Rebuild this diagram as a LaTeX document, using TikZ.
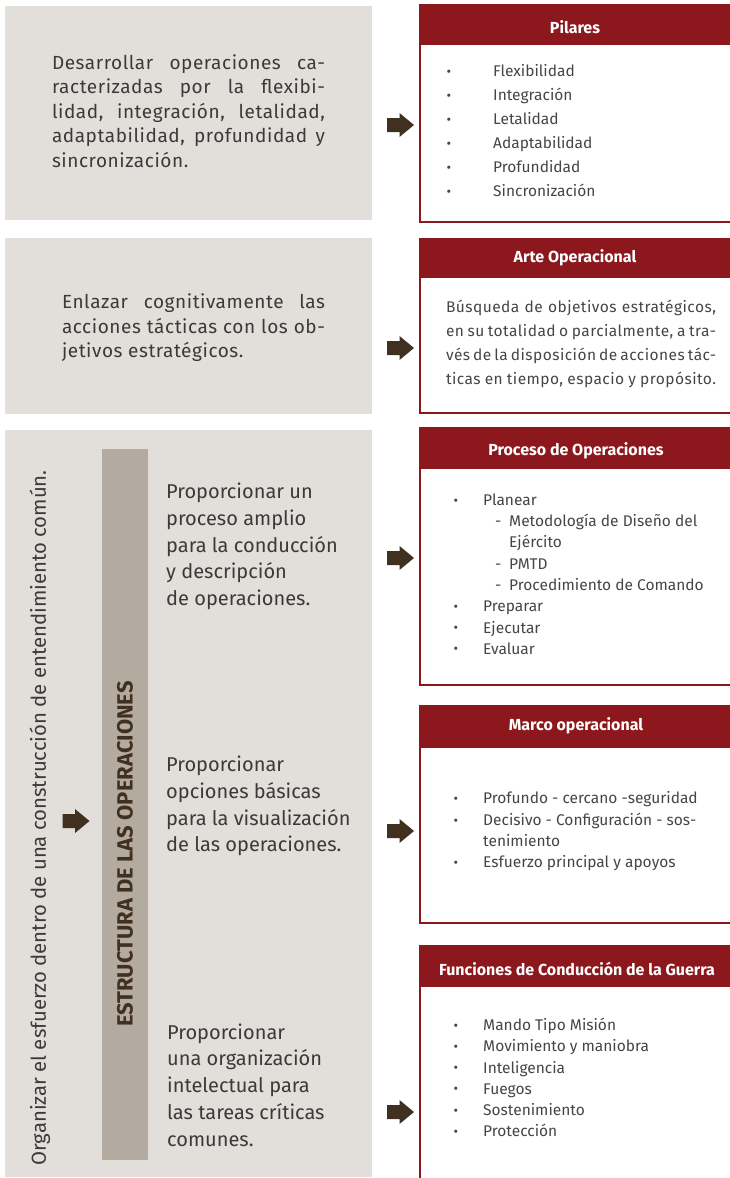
\documentclass[tikz,border=0pt]{standalone}
\usepackage{fontspec}
\setmainfont{Fira Sans}

\definecolor{boxgray}{HTML}{E2DFDA}
\definecolor{bargray}{HTML}{B3AAA0}
\definecolor{darkred}{HTML}{8C181D}
\definecolor{arrowbrown}{HTML}{3F3020}
\definecolor{textgray}{HTML}{3A3A3A}
\definecolor{listgray}{HTML}{454545}

\tikzset{
  graybox/.style={fill=boxgray},
  redframe/.style={draw=darkred, line width=2pt},
  headtext/.style={text=white, font=\fontsize{16}{18}\selectfont\bfseries, inner sep=0pt},
  bigtext/.style={text=textgray, font=\fontsize{19}{24.5}\selectfont\addfontfeature{LetterSpace=3}, inner sep=0pt, align=justify},
  lowtext/.style={text=textgray, font=\fontsize{20}{26.7}\selectfont, inner sep=0pt, align=left, anchor=west},
  itemtext/.style={text=listgray, font=\fontsize{15.5}{18}\selectfont, inner sep=0pt, anchor=west, text height=0.7em, text depth=0pt},
  smalltext/.style={text=listgray, font=\fontsize{15.5}{24}\selectfont\addfontfeature{LetterSpace=3}, inner sep=0pt, align=justify},
  dot/.style={text=listgray, font=\fontsize{14}{16}\selectfont, inner sep=0pt},
  blockarrow/.style={fill=arrowbrown},
}

\begin{document}
\begin{tikzpicture}[x=1pt, y=-1pt]
  \useasboundingbox (0,0) rectangle (730,1178);
  \clip (0,0) rectangle (730,1178);

  % Gray boxes on the left
  \fill[graybox] (5,6) rectangle (372,220);
  \fill[graybox] (5,238) rectangle (372,414);
  \fill[graybox] (5,430) rectangle (372,1177);
  \fill[bargray] (102,449) rectangle (148,1160);

  % Red boxes on the right
  \draw[redframe] (420,5) rectangle (740,222);
  \fill[darkred] (419,4) rectangle (740,45);
  \draw[redframe] (420,239) rectangle (740,413);
  \fill[darkred] (419,238) rectangle (740,278);
  \draw[redframe] (420,428) rectangle (740,685);
  \fill[darkred] (419,427) rectangle (740,469);
  \draw[redframe] (420,706) rectangle (740,923);
  \fill[darkred] (419,705) rectangle (740,748);
  \draw[redframe] (420,946) rectangle (740,1200);
  \fill[darkred] (419,945) rectangle (740,987);

  % Headers
  \node[headtext] (pil-head) at (575,27) {Pilares};
  \node[headtext] (arte-head) at (575,258) {Arte Operacional};
  \node[headtext] (pro-head) at (576,451) {Proceso de Operaciones};
  \node[headtext] (marco-head) at (576,726) {Marco operacional};
  \node[headtext] (fun-head) at (577,969) {Funciones de Conducción de la Guerra};

  % Texts in the gray boxes
  \node[bigtext, text width=273pt] (desarrollar) at (188.5,111)
    {Desarrollar operaciones ca-\linebreak racterizadas por la flexibi-\linebreak lidad, integración, letalidad,\linebreak adaptabilidad, profundidad y\linebreak sincronización.};
  \node[bigtext, text width=263pt] (enlazar) at (193.5,328)
    {Enlazar cognitivamente las\linebreak acciones tácticas con los ob-\linebreak jetivos estratégicos.};
  \node[lowtext] (proc-txt) at (166,546.5)
    {Proporcionar un\\proceso amplio\\para la conducción\\y descripción\\de operaciones.};
  \node[lowtext] (vis-txt) at (166,806)
    {Proporcionar\\opciones básicas\\para la visualización\\de las operaciones.};
  \node[lowtext] (org-txt) at (167,1085)
    {Proporcionar\\una organización\\intelectual para\\las tareas críticas\\comunes.};

  % Vertical texts
  \node[rotate=90, text=textgray, font=\fontsize{20.3}{22}\selectfont, inner sep=0pt] (organizar) at (40,818)
    {Organizar el esfuerzo dentro de una construcción de entendimiento común.};
  \node[rotate=90, text=arrowbrown, font=\fontsize{22}{24}\selectfont\bfseries, inner sep=0pt] (estructura) at (125,854)
    {ESTRUCTURA DE LAS OPERACIONES};

  % Pilares list
  \foreach \t [count=\i] in {Flexibilidad, Integración, Letalidad, Adaptabilidad, Profundidad, Sincronización} {
      \node[dot] (pil-b\i) at (449, 49+24*\i) {•};
      \node[itemtext] (pil-\i) at (493, 49+24*\i) {\t};
  }

  % Arte Operacional text
  \node[smalltext, text width=270pt] (arte-txt) at (581,344)
    {Búsqueda de objetivos estratégicos,\linebreak en su totalidad o parcialmente, a tra-\linebreak vés de la disposición de acciones tác-\linebreak ticas en tiempo, espacio y propósito.};

  % Proceso de Operaciones list
  \node[dot] (pro-b1) at (456,502) {•};
  \node[itemtext] (pro-1) at (483,502) {Planear};
  \node[itemtext] (pro-d1) at (495,523) {-};
  \node[itemtext] (pro-s1) at (509,523) {Metodología de Diseño del};
  \node[itemtext] (pro-s1b) at (509,544) {Ejército};
  \node[itemtext] (pro-d2) at (495,566) {-};
  \node[itemtext] (pro-s2) at (509,566) {PMTD};
  \node[itemtext] (pro-d3) at (495,587) {-};
  \node[itemtext] (pro-s3) at (509,587) {Procedimiento de Comando};
  \foreach \t [count=\i from 2] in {Preparar, Ejecutar, Evaluar} {
      \node[dot] (pro-b\i) at (456, 566+21.2*\i) {•};
      \node[itemtext] (pro-\i) at (483, 566+21.2*\i) {\t};
  }

  % Marco operacional list
  \node[dot] (mar-b1) at (456,800) {•};
  \node[itemtext] (mar-1) at (483,800) {Profundo - cercano -seguridad};
  \node[dot] (mar-b2) at (456,822) {•};
  \node[itemtext] (mar-2) at (483,822) {Decisivo - Configuración - sos-};
  \node[itemtext] (mar-2b) at (483,843) {tenimiento};
  \node[dot] (mar-b3) at (456,864) {•};
  \node[itemtext] (mar-3) at (483,864) {Esfuerzo principal y apoyos};

  % Funciones list
  \foreach \t [count=\i] in {Mando Tipo Misión, Movimiento y maniobra, Inteligencia, Fuegos, Sostenimiento, Protección} {
      \node[dot] (fun-b\i) at (456, 1006+21.2*\i) {•};
      \node[itemtext] (fun-\i) at (483, 1006+21.2*\i) {\t};
  }

  % Arrows
  \foreach \n/\x/\y in {pil/400.5/125, arte/400.5/348, pro/400.5/558, mar/400.5/831, fun/400.5/1112, org/76/821} {
      \coordinate (arr-\n) at (\x,\y);
      \fill[blockarrow, shift={(arr-\n)}] (-13.5,-7) -- (-1,-7) -- (-1,-12) -- (13.5,0)
          -- (-1,12) -- (-1,7) -- (-13.5,7) -- cycle;
  }

\end{tikzpicture}
\end{document}
